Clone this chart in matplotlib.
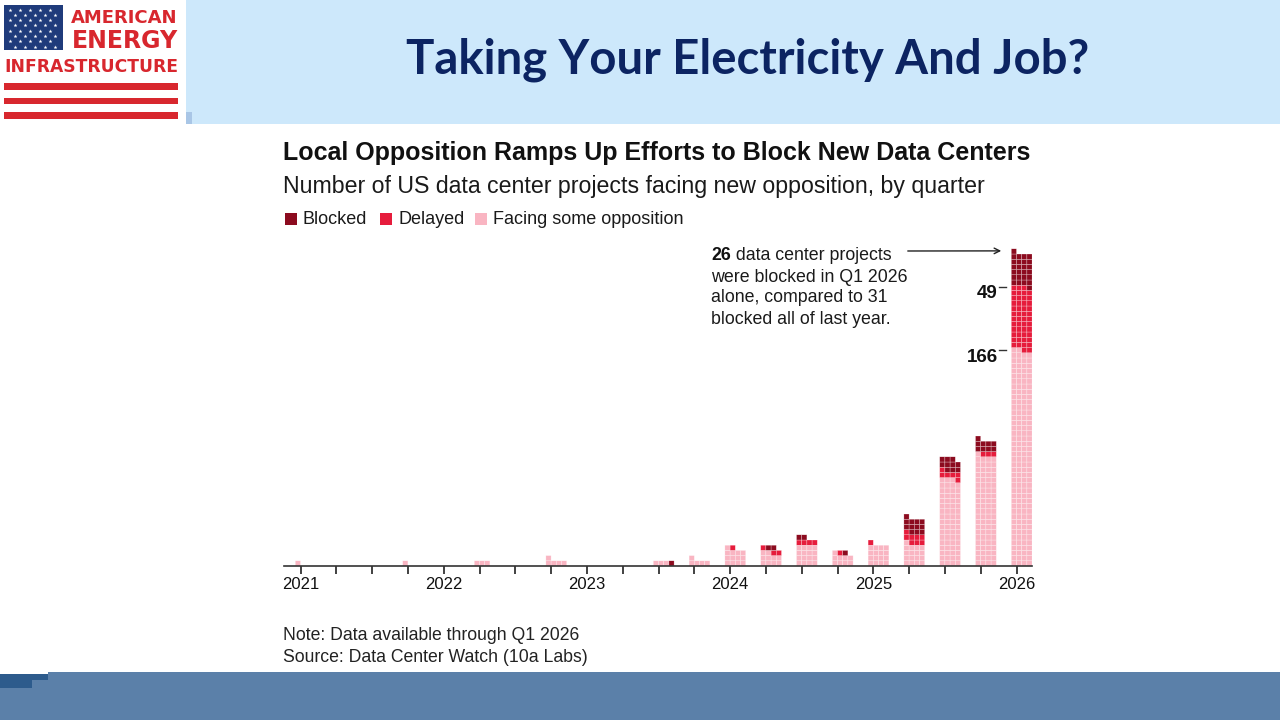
import numpy as np
import matplotlib.pyplot as plt
from matplotlib.patches import Rectangle

plt.rcParams['font.family'] = ['Liberation Sans', 'DejaVu Sans']

# one square = one project, quarters Q1 2021 .. Q1 2026
quarters = ['2021Q1', '2021Q2', '2021Q3', '2021Q4',
            '2022Q1', '2022Q2', '2022Q3', '2022Q4',
            '2023Q1', '2023Q2', '2023Q3', '2023Q4',
            '2024Q1', '2024Q2', '2024Q3', '2024Q4',
            '2025Q1', '2025Q2', '2025Q3', '2025Q4',
            '2026Q1']
facing = [1, 0, 0, 1, 0, 3, 0, 5, 0, 0, 3, 5, 13, 10, 16, 9, 16, 17, 67, 85, 166]
delayed = [0, 0, 0, 0, 0, 0, 0, 0, 0, 0, 0, 0, 1, 3, 4, 1, 1, 8, 6, 3, 49]
blocked = [0, 0, 0, 0, 0, 0, 0, 0, 0, 0, 1, 0, 0, 2, 2, 1, 0, 12, 10, 9, 26]

C_BLOCK = '#8c0b1f'
C_DELAY = '#e61c3c'
C_FACE = '#f9b5c2'
NAVY = '#0c2462'
LOGO_RED = '#d8272e'

fig = plt.figure(figsize=(12.8, 7.2), dpi=100)

# slide layer in pixel coordinates
bg = fig.add_axes([0, 0, 1, 1])
bg.set_xlim(0, 1280)
bg.set_ylim(720, 0)
bg.axis('off')

bg.add_patch(Rectangle((186, 0), 1094, 124, color='#cde8fb', lw=0))
bg.add_patch(Rectangle((186, 112), 6, 12, color='#a9c6e6', lw=0))
bg.text(748, 60, 'Taking Your Electricity And Job?', ha='center', va='center',
        fontsize=34, fontweight='bold', color=NAVY, family='Lato')

# footer band
bg.add_patch(Rectangle((48, 672), 1232, 48, color='#5b80a9', lw=0))
bg.add_patch(Rectangle((0, 674), 48, 46, color='#5b80a9', lw=0))
bg.add_patch(Rectangle((0, 674), 48, 6, color='#2d5b8c', lw=0))
bg.add_patch(Rectangle((0, 680), 32, 8, color='#2d5b8c', lw=0))

# logo
bg.add_patch(Rectangle((4, 5), 59, 45, color='#1f3b7b', lw=0))
for r in range(8):
    xs = np.arange(10 + (r % 2) * 5, 60, 10)
    bg.plot(xs, np.full(len(xs), 9.5 + r * 5.3), ls='none', marker='*',
            ms=3, mew=0, color='white')
for y in (83, 97.5, 112):
    bg.add_patch(Rectangle((4, y), 174, 6.5, color=LOGO_RED, lw=0))

renderer = fig.canvas.get_renderer()


def fit_width(t, width_px):
    bb = t.get_window_extent(renderer)
    t.set_fontsize(t.get_fontsize() * width_px / bb.width)


t1 = bg.text(71, 18, 'AMERICAN', va='center', fontsize=14, fontweight='bold',
             color=LOGO_RED, family='DejaVu Sans')
t2 = bg.text(72, 41, 'ENERGY', va='center', fontsize=19, fontweight='bold',
             color=LOGO_RED, family='DejaVu Sans')
t3 = bg.text(4, 67, 'INFRASTRUCTURE', va='center', fontsize=14, fontweight='bold',
             color=LOGO_RED, family='DejaVu Sans')
fit_width(t1, 107)
fit_width(t2, 106)
fit_width(t3, 173)

# chart headings
bg.text(283, 153, 'Local Opposition Ramps Up Efforts to Block New Data Centers',
        va='center', fontsize=18, fontweight='bold', color='#111111')
bg.text(283, 186, 'Number of US data center projects facing new opposition, by quarter',
        va='center', fontsize=16.7, color='#1a1a1a')

for x, c, lab in [(285, C_BLOCK, 'Blocked'), (380, C_DELAY, 'Delayed'),
                  (475, C_FACE, 'Facing some opposition')]:
    bg.add_patch(Rectangle((x, 213), 12, 12, color=c, lw=0))
    bg.text(x + 18, 219, lab, va='center', fontsize=13, color='#1a1a1a')

bg.text(283, 636, 'Note: Data available through Q1 2026', va='center',
        fontsize=12.7, color='#222222')
bg.text(283, 657, 'Source: Data Center Watch (10a Labs)', va='center',
        fontsize=12.7, color='#222222')

# waffle chart
X0, DQ = 300.5, 35.8   # px of first quarter tick, px per quarter
CELL = 5.2             # px per square
BASE = 566
TOP = 238
LEFT, RIGHT = 284, 1032
ax = fig.add_axes([LEFT / 1280, (720 - BASE) / 720, (RIGHT - LEFT) / 1280, (BASE - TOP) / 720])
ax.set_xlim((LEFT - X0) / DQ, (RIGHT - X0) / DQ)
ax.set_ylim(0, (BASE - TOP) / CELL)
ax.patch.set_alpha(0)
cw = CELL / DQ
ncol = 4

for i in range(len(quarters)):
    colors = [C_FACE] * facing[i] + [C_DELAY] * delayed[i] + [C_BLOCK] * blocked[i]
    for k, c in enumerate(colors):
        row, col = divmod(k, ncol)
        ax.add_patch(Rectangle((i - cw + col * cw, row), cw, 1, facecolor=c,
                               edgecolor=(1, 1, 1, 0.6), lw=0.3, snap=False))

for s in ('top', 'right', 'left'):
    ax.spines[s].set_visible(False)
ax.spines['bottom'].set_color('#333333')
ax.spines['bottom'].set_linewidth(1.2)
ax.set_yticks([])
ax.set_xticks(range(len(quarters)))
ax.set_xticklabels([q[:4] if q.endswith('Q1') else '' for q in quarters])
ax.tick_params(axis='x', length=6, width=1.3, color='#333333', pad=2,
               labelsize=12, labelcolor='#111111')

# segment labels on the latest quarter
last = len(quarters) - 1
for val, top in [(delayed[last], (facing[last] + delayed[last]) / ncol),
                 (facing[last], facing[last] / ncol)]:
    ax.plot([last - cw - 0.35, last - cw - 0.16], [top, top], color='#333333', lw=1)
    ax.text(last - cw - 0.38, top + 0.2, str(val), ha='right', va='top',
            fontsize=13.5, fontweight='bold', color='#111111')

# callout
n_last = facing[last] + delayed[last] + blocked[last]
ax.annotate('', xy=(last - 2.4 * cw, n_last / ncol + 0.35), xycoords='data',
            xytext=(905, 251), textcoords=bg.transData,
            arrowprops=dict(arrowstyle='->', color='#222222', lw=1, mutation_scale=10))
tb = bg.text(711, 256, str(blocked[last]), va='center', fontsize=12.8,
             fontweight='bold', color='#111111')
wb = tb.get_window_extent(renderer).width
bg.text(711 + wb, 256, ' data center projects', va='center', fontsize=12.8, color='#1a1a1a')
prev_year = sum(blocked[last - 4:last])
for j, line in enumerate(['were blocked in Q1 2026',
                          f'alone, compared to {prev_year}',
                          'blocked all of last year.']):
    bg.text(711, 277 + 21 * j, line, va='center', fontsize=12.8, color='#1a1a1a')

fig.savefig('out.png', dpi=100)
